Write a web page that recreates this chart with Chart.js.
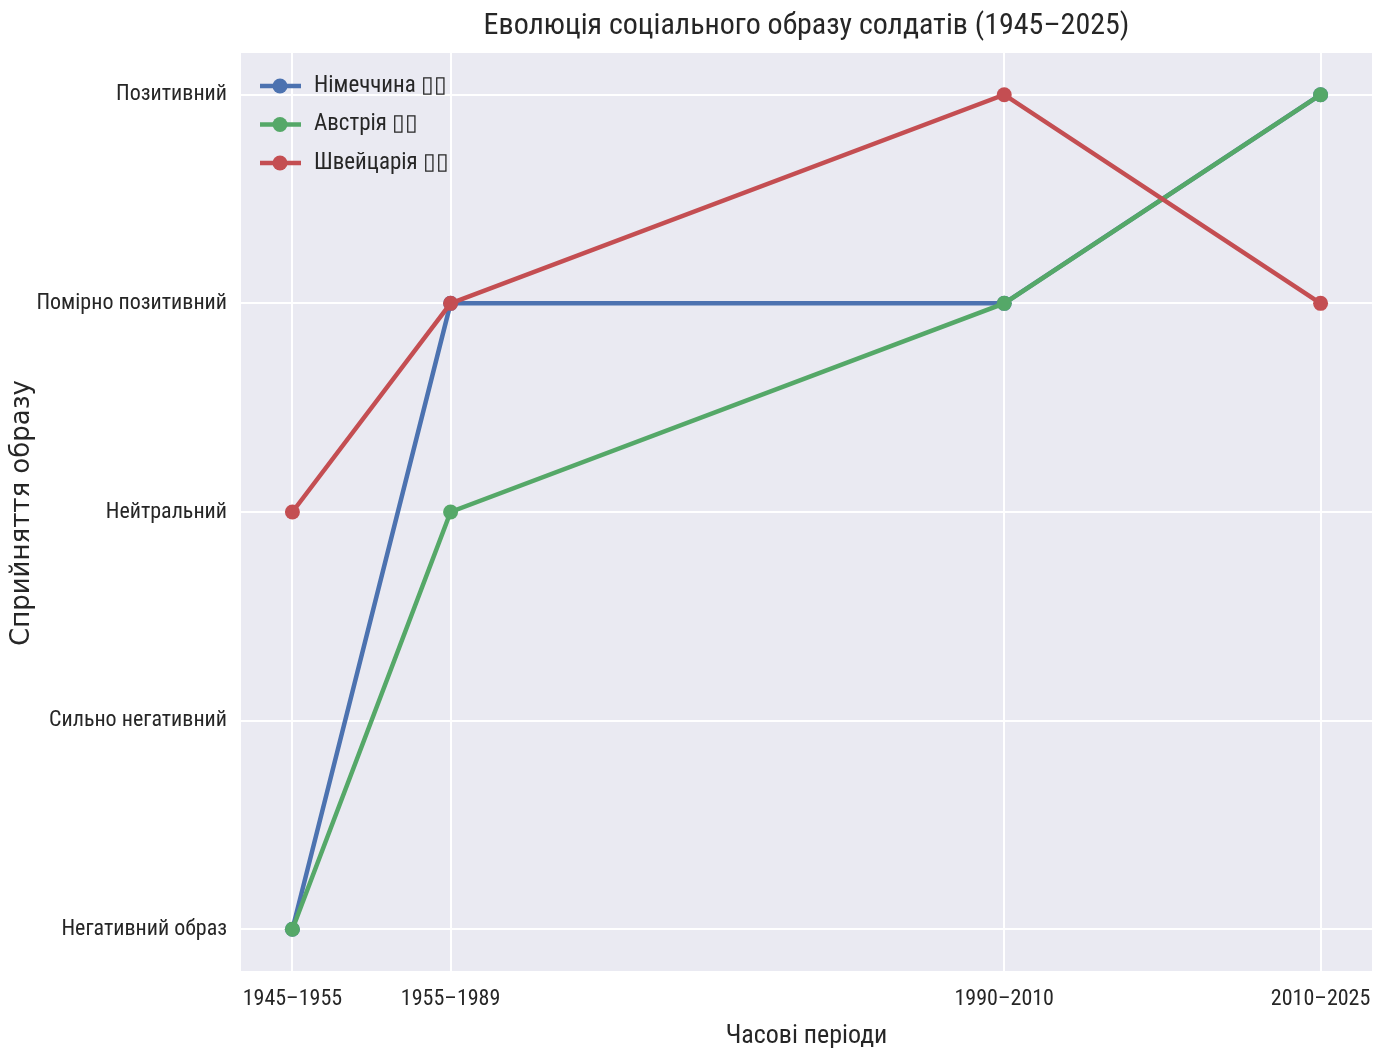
<!DOCTYPE html>
<html>
<head>
<meta charset="utf-8">
<script src="https://cdn.jsdelivr.net/npm/chart.js@4.4.1/dist/chart.umd.min.js"></script>
<style>
  html, body { margin: 0; padding: 0; background: #fff; }
  #wrap { width: 1390px; height: 1052px; }
</style>
</head>
<body>
<div id="wrap"><canvas id="chrt" width="1390" height="1052"></canvas></div>
<script>
// data
var periodStarts = [1945, 1955, 1990, 2010]
var periodLabels = ['1945–1955', '1955–1989', '1990–2010', '2010–2025']
var levelLabels = ['Негативний образ', 'Сильно негативний', 'Нейтральний', 'Помірно позитивний', 'Позитивний']
var germany = [0, 3, 3, 4]
var austria = [0, 2, 3, 4]
var switzerland = [2, 3, 4, 3]
var seriesNames = ['Німеччина ▯▯', 'Австрія ▯▯', 'Швейцарія ▯▯']
var seriesColors = ['#4C72B0', '#55A868', '#C44E52']

var narrow = '"Liberation Sans Narrow", "Roboto Condensed", "Liberation Sans", sans-serif'

function toPoints(vals) {
  return vals.map((v, i) => ({x: periodStarts[i], y: v}))
}

function makeSet(idx, vals, ord) {
  return {
    label: seriesNames[idx],
    data: toPoints(vals),
    borderColor: seriesColors[idx],
    backgroundColor: seriesColors[idx],
    pointBackgroundColor: seriesColors[idx],
    pointBorderColor: seriesColors[idx],
    borderWidth: 4.5,
    pointRadius: 7.5,
    pointBorderWidth: 0,
    tension: 0,
    order: ord
  }
}

// background + title + axis titles + legend
const decor = {
  id: 'decor',
  beforeDraw(chart) {
    const {ctx, chartArea: {left, top, width, height}} = chart
    ctx.save()
    ctx.fillStyle = '#EAEAF2'
    ctx.fillRect(left, top, width, height)
    ctx.restore()
  },
  afterDraw(chart) {
    const {ctx, chartArea: {left, right, top, bottom}} = chart
    var cx = (left + right) / 2
    ctx.save()
    ctx.fillStyle = '#262626'
    ctx.textAlign = 'center'
    ctx.textBaseline = 'middle'
    ctx.font = '30px ' + narrow
    ctx.fillText('Еволюція соціального образу солдатів (1945–2025)', cx, 26)
    ctx.font = '26px ' + narrow
    ctx.fillText('Часові періоди', cx, 1036)
    ctx.translate(22, 513)
    ctx.rotate(-Math.PI / 2)
    ctx.font = '26px "DejaVu Sans", sans-serif'
    ctx.fillText('Сприйняття образу', 0, 0)
    ctx.restore()

    // legend
    ctx.save()
    ctx.textAlign = 'left'
    ctx.textBaseline = 'middle'
    ctx.font = '23px ' + narrow
    seriesNames.forEach((name, i) => {
      var y = 86 + i * 38.5
      ctx.strokeStyle = seriesColors[i]
      ctx.lineWidth = 4.5
      ctx.beginPath()
      ctx.moveTo(260, y)
      ctx.lineTo(301, y)
      ctx.stroke()
      ctx.fillStyle = seriesColors[i]
      ctx.beginPath()
      ctx.arc(280, y, 7.5, 0, Math.PI * 2)
      ctx.fill()
      ctx.fillStyle = '#262626'
      ctx.fillText(name, 314, y)
    })
    ctx.restore()
  }
}

const config = {
  type: 'line',
  data: {
    datasets: [
      makeSet(0, germany, 3),
      makeSet(1, austria, 2),
      makeSet(2, switzerland, 1)
    ]
  },
  plugins: [decor],
  options: {
    responsive: false,
    animation: false,
    layout: { padding: { top: 53, right: 18, left: 0, bottom: 0 } },
    plugins: {
      legend: { display: false },
      title: { display: false },
      tooltip: { enabled: false }
    },
    scales: {
      x: {
        type: 'linear',
        min: 1941.75,
        max: 2013.25,
        afterFit: s => { s.height = 81 },
        afterBuildTicks: s => { s.ticks = periodStarts.map(v => ({value: v})) },
        ticks: {
          padding: 15,
          maxRotation: 0,
          autoSkip: false,
          color: '#262626',
          font: { family: narrow, size: 22 },
          callback: v => periodLabels[periodStarts.indexOf(v)]
        },
        grid: { color: '#ffffff', lineWidth: 2, drawTicks: false },
        border: { display: false }
      },
      y: {
        type: 'linear',
        min: -0.2,
        max: 4.2,
        afterFit: s => { s.width = 241 },
        afterBuildTicks: s => { s.ticks = levelLabels.map((l, i) => ({value: i})) },
        ticks: {
          padding: 14,
          autoSkip: false,
          color: '#262626',
          font: { family: narrow, size: 22 },
          callback: v => levelLabels[v]
        },
        grid: { color: '#ffffff', lineWidth: 2, drawTicks: false },
        border: { display: false }
      }
    }
  }
}

const myChart = new Chart(document.getElementById('chrt'), config)
</script>
</body>
</html>
